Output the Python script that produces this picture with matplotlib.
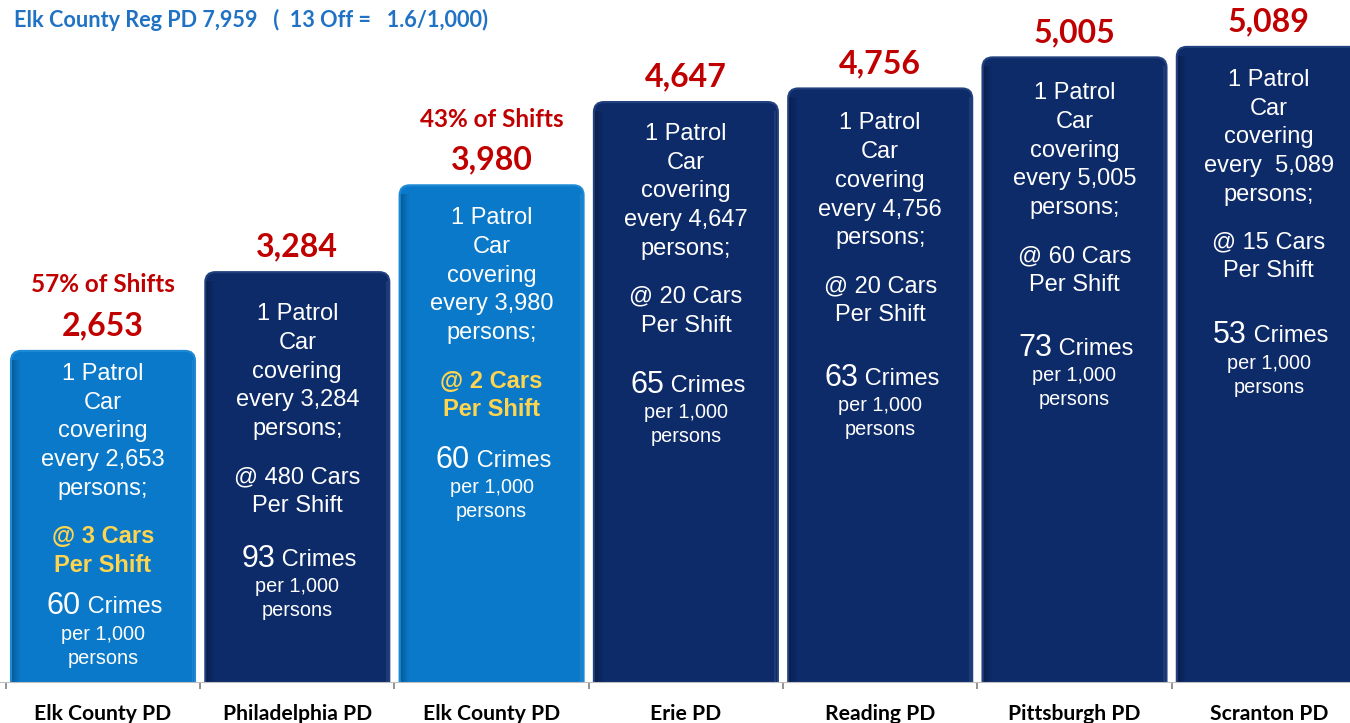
import matplotlib
matplotlib.use("Agg")
import matplotlib.pyplot as plt
from matplotlib.patches import FancyBboxPatch

# data
departments = ['Elk County PD', 'Philadelphia PD', 'Elk County PD', 'Erie PD',
               'Reading PD', 'Pittsburgh PD', 'Scranton PD']
persons_per_car = [2653, 3284, 3980, 4647, 4756, 5005, 5089]
cars_per_shift = [3, 480, 2, 20, 20, 60, 15]
crimes_per_1000 = [60, 93, 60, 65, 63, 73, 53]
shift_share = ['57% of Shifts', None, '43% of Shifts', None, None, None, None]
is_elk = [True, False, True, False, False, False, False]
header = 'Elk County Reg PD 7,959   (  13 Off =   1.6/1,000)'

# layout (pixels)
top_pad = [23, 42, 33, 32, 35, 36, 33]
crimes_gap = [42, 54, 51, 60, 64, 64, 65]

light = '#0A79C9'
light_edge = '#1E8AD6'
navy = '#0D2A69'
navy_edge = '#22407E'
red = '#C00000'
yellow = '#FFD54F'

fig = plt.figure(figsize=(13.5, 7.23), dpi=100)
ax = fig.add_axes([0, 41 / 723, 1, 682 / 723])
px_x = 194.3
px_y = 0.1248

w = 184 / px_x
r = 10 / px_x
aspect = (10 / px_y) / r
for i, v in enumerate(persons_per_car):
    fc = light if is_elk[i] else navy
    ec = light_edge if is_elk[i] else navy_edge
    p = FancyBboxPatch((i - w / 2, -300), w, v + 300,
                       boxstyle='round,pad=0,rounding_size=%f' % r,
                       mutation_aspect=aspect, fc=fc, ec=ec, lw=1.5)
    ax.add_patch(p)
    # soft shading on left side
    for k, a in enumerate([0.22, 0.15, 0.09, 0.04]):
        ax.bar(i - w / 2 + 0.006 + k * 0.01, v - 70, width=0.01, bottom=0,
               align='edge', color='black', alpha=a, lw=0)
    # lighter right edge
    ax.bar(i + w / 2 - 0.018, v - 70, width=0.01, bottom=0, align='edge',
           color='white', alpha=0.08, lw=0)

fs = 17
txt = dict(ha='center', va='center', textcoords='offset pixels',
           family='Liberation Sans', color='white')
lh = 28.7
for i, v in enumerate(persons_per_car):
    y0 = -top_pad[i]
    lines = ['1 Patrol', 'Car', 'covering',
             ('every  %s' if i == 6 else 'every %s') % format(v, ','), 'persons;']
    for k, s in enumerate(lines):
        ax.annotate(s, (i, v), xytext=(0, y0 - k * lh), fontsize=fs, **txt)
    yc = y0 - 4 * lh - 48
    if is_elk[i]:
        ax.annotate('@ %d Cars' % cars_per_shift[i], (i, v), xytext=(0, yc),
                    fontsize=fs, fontweight='bold', ha='center', va='center',
                    textcoords='offset pixels', family='Liberation Sans',
                    color=yellow)
        ax.annotate('Per Shift', (i, v), xytext=(0, yc - lh), fontsize=fs,
                    fontweight='bold', ha='center', va='center',
                    textcoords='offset pixels', family='Liberation Sans',
                    color=yellow)
    else:
        ax.annotate('@ %d Cars' % cars_per_shift[i], (i, v), xytext=(0, yc),
                    fontsize=fs, **txt)
        ax.annotate('Per Shift', (i, v), xytext=(0, yc - lh), fontsize=fs, **txt)
    ym = yc - lh - crimes_gap[i]
    ax.annotate(str(crimes_per_1000[i]), (i, v), xytext=(-22, ym + 1),
                fontsize=22, ha='right', va='center', textcoords='offset pixels',
                family='Liberation Sans', color='white')
    ax.annotate(' Crimes', (i, v), xytext=(-22, ym), fontsize=fs,
                ha='left', va='center', textcoords='offset pixels',
                family='Liberation Sans', color='white')
    ax.annotate('per 1,000', (i, v), xytext=(0, ym - 27), fontsize=14.3, **txt)
    ax.annotate('persons', (i, v), xytext=(0, ym - 51), fontsize=14.3, **txt)

    # value label and shift share
    ax.annotate(format(v, ','), (i, v), xytext=(0, 25), textcoords='offset pixels',
                ha='center', va='center', fontsize=23, fontweight='bold',
                family='Lato', color=red)
    if shift_share[i]:
        ax.annotate(shift_share[i], (i, v), xytext=(0, 66), textcoords='offset pixels',
                    ha='center', va='center', fontsize=17.5, fontweight='bold',
                    family='Lato', color=red)

ax.text(14 / 1350, 1 - 20 / 682, header, transform=ax.transAxes, ha='left',
        va='center', fontsize=15.6, fontweight='bold', family='Lato', color='#1F72C4')

for s in ['top', 'left', 'right']:
    ax.spines[s].set_visible(False)
ax.spines['bottom'].set_color('#BFBFBF')
ax.set_yticks([])
ax.set_xticks(range(len(departments)))
ax.set_xticklabels(departments, fontsize=15.2, fontweight='bold', family='Lato')
ax.set_xticks([i - 0.5 for i in range(len(departments) + 1)], minor=True)
ax.tick_params(axis='x', which='major', length=0, pad=16)
ax.tick_params(axis='x', which='minor', length=5, width=1.2, color='#808080')

ax.set_xlim(-103 / px_x, -103 / px_x + 1350 / px_x)
ax.set_ylim(0, 682 / px_y)

fig.savefig('out.png', dpi=100)
